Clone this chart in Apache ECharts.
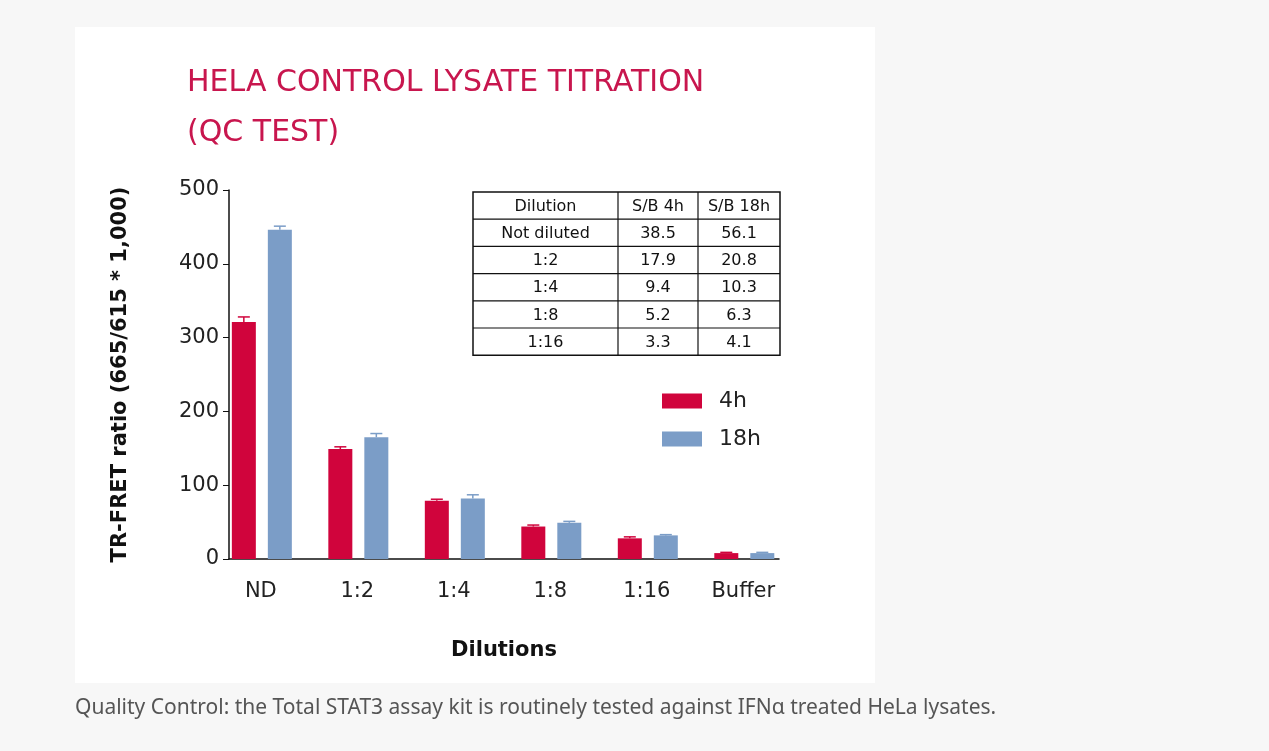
<!DOCTYPE html>
<html><head><meta charset="utf-8">
<script src="https://cdn.jsdelivr.net/npm/echarts@6/dist/echarts.min.js"></script>
<style>html,body{margin:0;padding:0;background:#f7f7f7;}#c{width:1269px;height:751px;}</style>
</head><body><div id="c"></div>
<script>
const categories=['ND','1:2','1:4','1:8','1:16','Buffer'];
const v4h=[321,149,79,44,28,8];
const e4h=[7,3,2,2,2,1];
const v18h=[446,165,82,49,32,8];
const e18h=[5,5,5,2,1,1];
const yTicks=[0,100,200,300,400,500];
const tableHeader=['Dilution','S/B 4h','S/B 18h'];
const tableRows=[['Not diluted','38.5','56.1'],['1:2','17.9','20.8'],['1:4','9.4','10.3'],['1:8','5.2','6.3'],['1:16','3.3','4.1']];
const RED='#d0043c',BLUE='#7b9dc7';
const F='"DejaVu Sans"';
const C0=0.33;
const chart=echarts.init(document.getElementById('c'));
function mk(off,w){return function(p,api){
  const i=api.value(0),v=api.value(1),e=api.value(2);
  const base=api.coord([i+C0,0]),top=api.coord([i+C0,v]),et=api.coord([i+C0,v+e]);
  const x0=base[0]+off,cx=x0+w/2;
  return {type:'group',children:[
    {type:'rect',shape:{x:x0,y:top[1],width:w,height:base[1]-top[1]},style:{fill:api.visual('color')}},
    {type:'line',shape:{x1:cx,y1:top[1],x2:cx,y2:et[1]},style:{stroke:api.visual('color'),lineWidth:1.5}},
    {type:'line',shape:{x1:cx-6,y1:et[1],x2:cx+6,y2:et[1]},style:{stroke:api.visual('color'),lineWidth:1.5}}
  ]};};}
function labelItem(p,api){
  const i=api.value(0);const pt=api.coord([i+C0,0]);
  return {type:'text',x:pt[0],y:pt[1]+33,style:{text:categories[i],fill:'#222',font:'21px '+F,align:'center',verticalAlign:'middle'}};
}
const g=[];
g.push({type:'rect',z:-10,shape:{x:75,y:27,width:800,height:656},style:{fill:'#fff'}});
const tx=473,ty=192,cw=[145,80,82],rh=27.2;
const all=[tableHeader].concat(tableRows);
g.push({type:'rect',shape:{x:tx,y:ty,width:307,height:rh*6},style:{fill:'#fff',stroke:'#111',lineWidth:1.5}});
for(let r=1;r<6;r++)g.push({type:'line',shape:{x1:tx,y1:ty+r*rh,x2:tx+307,y2:ty+r*rh},style:{stroke:'#111',lineWidth:1.2}});
g.push({type:'line',shape:{x1:tx+cw[0],y1:ty,x2:tx+cw[0],y2:ty+rh*6},style:{stroke:'#111',lineWidth:1.2}});
g.push({type:'line',shape:{x1:tx+cw[0]+cw[1],y1:ty,x2:tx+cw[0]+cw[1],y2:ty+rh*6},style:{stroke:'#111',lineWidth:1.2}});
all.forEach((row,r)=>{let x=tx;row.forEach((t,c)=>{g.push({type:'text',x:x+cw[c]/2,y:ty+r*rh+rh/2+1,style:{text:t,fill:'#111',font:'16px '+F,align:'center',verticalAlign:'middle'}});x+=cw[c];});});
g.push({type:'text',left:187,top:58,style:{text:'HELA CONTROL LYSATE TITRATION\n(QC TEST)',fill:'#c8164e',font:'30px '+F,lineHeight:50}});
g.push({type:'text',left:75,top:698,style:{text:'Quality Control: the Total STAT3 assay kit is routinely tested against IFNα treated HeLa lysates.',fill:'#555',font:'21px "Noto Sans"'}});
chart.setOption({
  animation:false,
  graphic:g,
  grid:{left:229,top:190,width:550,height:369},
  legend:{orient:'vertical',left:657,top:385,itemWidth:40,itemHeight:15,itemGap:16,icon:'rect',textStyle:{fontSize:22,color:'#222',fontFamily:F,padding:[0,0,0,12]},data:['4h','18h']},
  xAxis:{type:'value',min:0,max:5.7,name:'Dilutions',nameLocation:'middle',nameGap:81,
    nameTextStyle:{fontSize:21,fontWeight:'bold',color:'#111',fontFamily:F},
    axisLine:{show:true,lineStyle:{color:'#111',width:1.5}},axisTick:{show:false},splitLine:{show:false},
    axisLabel:{show:false}},
  yAxis:{type:'value',min:0,max:500,interval:100,name:'TR-FRET ratio (665/615 * 1,000)',nameLocation:'middle',nameGap:98,
    nameTextStyle:{fontSize:21,fontWeight:'bold',color:'#111',fontFamily:F},
    axisLine:{show:true,lineStyle:{color:'#111',width:1.5}},axisTick:{show:true,length:6,lineStyle:{color:'#111'}},
    splitLine:{show:false},axisLabel:{fontSize:21,color:'#222',fontFamily:F,margin:10,formatter:v=>yTicks.includes(v)?String(v):''}},
  series:[
    {name:'4h',type:'custom',itemStyle:{color:RED},renderItem:mk(-29,24),encode:{x:0,y:1},data:v4h.map((v,i)=>[i,v,e4h[i]])},
    {name:'18h',type:'custom',itemStyle:{color:BLUE},renderItem:mk(7,24),encode:{x:0,y:1},data:v18h.map((v,i)=>[i,v,e18h[i]])},
    {name:'labels',type:'custom',renderItem:labelItem,clip:false,encode:{x:0,y:1},data:categories.map((c,i)=>[i,0])}
  ]
});
</script></body></html>
